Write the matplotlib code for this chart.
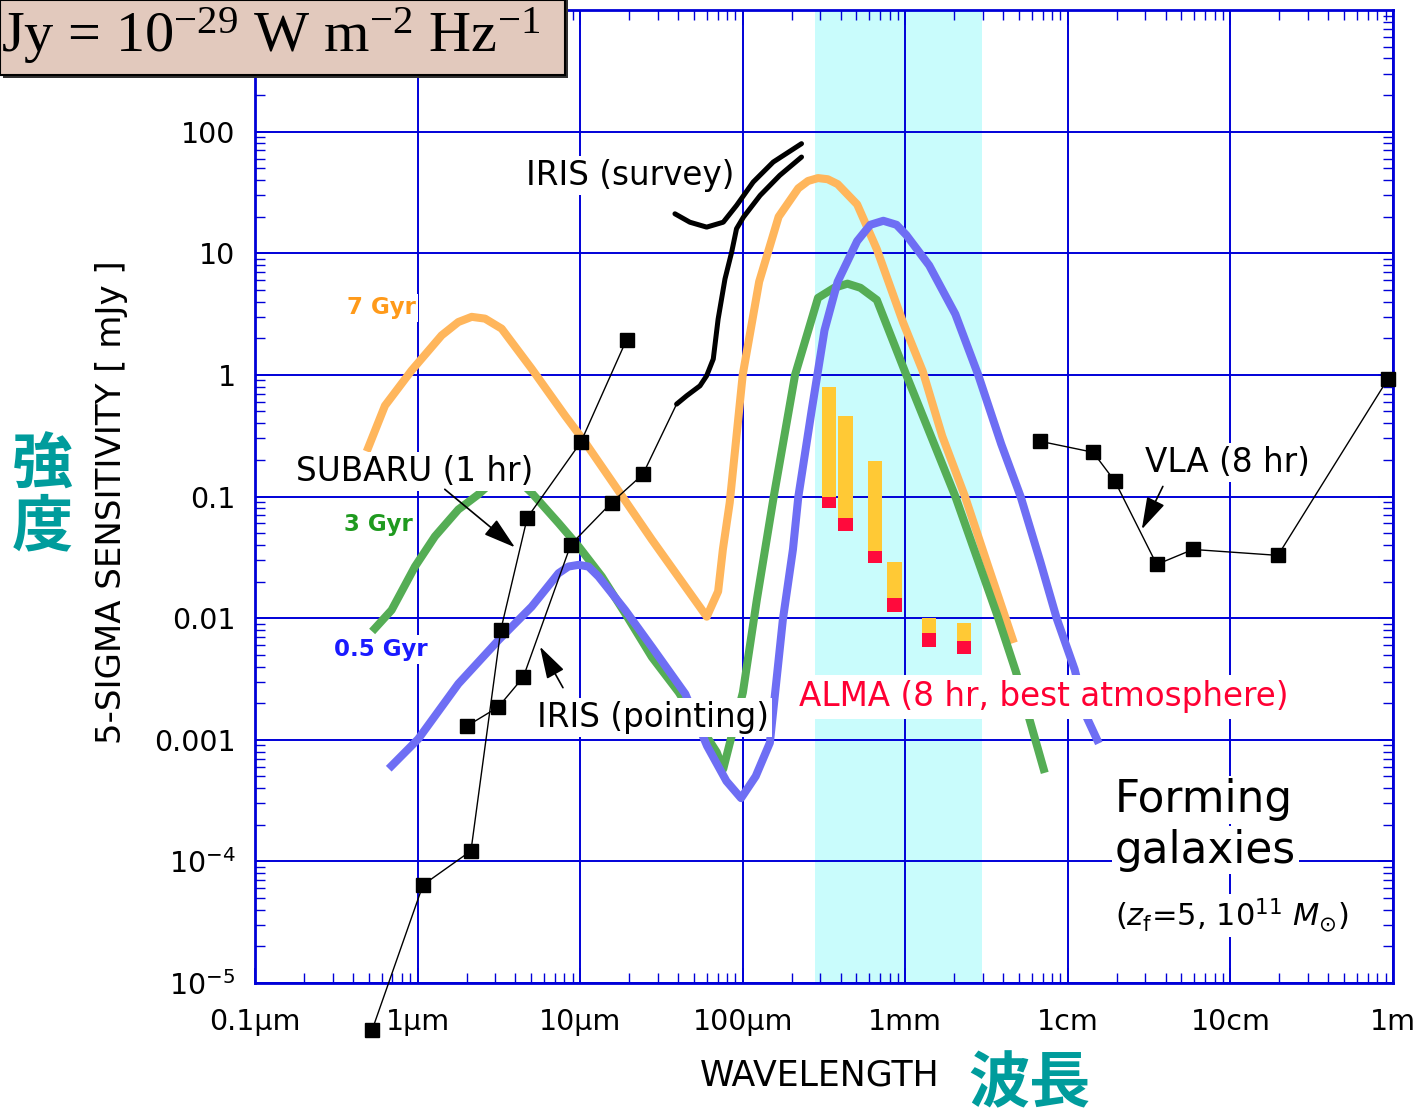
import matplotlib
matplotlib.use('Agg')
import matplotlib.pyplot as plt
from matplotlib.patches import Rectangle
from matplotlib.ticker import NullFormatter

plt.rcParams['font.family'] = ['DejaVu Sans', 'Noto Sans CJK JP']
plt.rcParams['mathtext.default'] = 'regular'

# wavelength in micron, flux / 5-sigma sensitivity in mJy
# model galaxy spectra
gyr7_wl = [0.497, 0.630, 0.918, 1.406, 1.782, 2.153, 2.600, 3.289, 5.035, 8.091, 10.74, 16.44,
           27.61, 44.36, 60.1, 70.6, 75.5, 83.2, 100, 126.2, 166.3, 219.8, 252.4, 290.4,
           333.4, 383.7, 505.8, 668.3, 968.3, 1279, 1687, 2333, 3228, 4571]
gyr7_s = [0.252, 0.558, 1.086, 2.113, 2.72, 3.0, 2.90, 2.399, 1.122, 0.461, 0.278, 0.1216,
          0.0442, 0.01816, 0.01028, 0.0166, 0.0367, 0.0891, 1.0, 5.834, 19.95, 34.2, 39.3, 41.5,
          40.6, 37.0, 25.2, 10.79, 2.704, 1.076, 0.314, 0.0993, 0.0269, 0.00673]

gyr3_wl = [0.546, 0.692, 0.964, 1.279, 1.782, 2.366, 3.162, 3.981, 5.035, 7.362, 9.772, 13.58,
           18.92, 27.61, 40.36, 52.5, 69.2, 75.9, 83.4, 100.2, 122.2, 155.2, 209.9, 290.4,
           365.6, 440.6, 529.7, 668.3, 1014, 2032, 3707, 4786, 7096]
gyr3_s = [0.00822, 0.01164, 0.02655, 0.0470, 0.0782, 0.104, 0.148, 0.145, 0.107, 0.0605, 0.0389,
          0.0220, 0.01094, 0.00479, 0.00246, 0.00141, 7.9e-4, 5.75e-4, 9.44e-4, 0.00244, 0.01422,
          0.1, 1.0, 4.295, 5.20, 5.623, 5.20, 4.13, 1.0, 0.1, 0.01028, 0.00364, 5.75e-4]

gyr05_wl = [0.692, 1.009, 1.782, 3.141, 5.035, 7.362, 8.47, 9.772, 11.25, 12.97, 18.92, 27.61,
            44.36, 60.3, 79.4, 97.7, 120.2, 146.9, 176.6, 203.7, 219.8, 264.8, 318.4, 383.7,
            505.8, 609.5, 732.8, 883.1, 1014, 1403, 2032, 2812, 3890, 5129, 6776, 8551, 11015,
            12970, 15136]
gyr05_s = [6.10e-4, 1.014e-3, 2.884e-3, 6.577e-3, 0.01242, 0.02339, 0.02655, 0.02742, 0.02655,
           0.02198, 0.01164, 0.00579, 0.00238, 8.91e-4, 4.57e-4, 3.31e-4, 5.01e-4, 9.44e-4,
           0.00973, 0.0367, 0.0993, 0.499, 2.323, 5.834, 12.59, 17.14, 18.49, 17.14, 14.13,
           7.943, 3.155, 0.995, 0.270, 0.0993, 0.0290, 0.00989, 0.00378, 0.00156, 0.001]

# instruments
subaru_wl = [0.525, 1.08, 2.13, 3.25, 4.73, 10.1, 19.3]
subaru_s = [4.1e-6, 6.4e-5, 1.22e-4, 8.0e-3, 0.067, 0.28, 1.95]

iris_pt_wl = [2.0, 3.14, 4.47, 8.77, 15.6, 24.3]
iris_pt_s = [1.29e-3, 1.86e-3, 3.27e-3, 0.0403, 0.089, 0.152]

iris_sv_wl = [39.2, 45.2, 54.6, 60.0, 65.9, 70.6, 77.8, 85.5, 91.6, 101, 128, 169, 230]
iris_sv_s = [0.575, 0.673, 0.813, 0.984, 1.35, 2.88, 6.15, 10.2, 15.9, 19.8, 29.9, 43.7, 61.8]
iris_sv2_wl = [38.3, 47.3, 60.0, 75.9, 91.6, 116, 154, 230]
iris_sv2_s = [21.1, 18.0, 16.4, 18.0, 24.7, 38.5, 56.2, 79.6]

alma_wl = [340, 430, 650, 860, 1400, 2300]
alma_best = [0.080, 0.0516, 0.0282, 0.0113, 0.00583, 0.0051]
alma_red_top = [0.100, 0.066, 0.0354, 0.0145, 0.0076, 0.00653]
alma_worst = [0.794, 0.458, 0.195, 0.0287, 0.0101, 0.00904]
alma_band = (280, 2950)

vla_wl = [6700, 14300, 19500, 35200, 58800, 196000, 929000]
vla_s = [0.285, 0.231, 0.133, 0.0276, 0.0367, 0.0328, 0.923]

xticks = [0.1, 1, 10, 100, 1e3, 1e4, 1e5, 1e6]
xlabels = ['0.1µm', '1µm', '10µm', '100µm', '1mm', '1cm', '10cm', '1m']
yticks = [1e-5, 1e-4, 1e-3, 1e-2, 0.1, 1, 10, 100]
ylabels = ['10$^{-5}$', '10$^{-4}$', '0.001', '0.01', '0.1', '1', '10', '100']

grid_blue = '#0000d8'

fig = plt.figure(figsize=(14.16, 11.16), dpi=100)
ax = fig.add_axes([255/1416, 133/1116, 1138/1416, 973/1116])
ax.set_xscale('log')
ax.set_yscale('log')
ax.set_xlim(0.1, 1e6)
ax.set_ylim(1e-5, 1e3)

ax.axvspan(*alma_band, color='#c9fcfc', zorder=0.2, lw=0)
ax.set_axisbelow(True)
ax.grid(which='major', color=grid_blue, lw=1.4)

# galaxy models
ax.plot(gyr7_wl, gyr7_s, color='#ffb65c', lw=5.8, zorder=3, solid_joinstyle='round')
ax.plot(gyr3_wl, gyr3_s, color='#55ad55', lw=5.8, zorder=3, solid_joinstyle='round')
ax.plot(gyr05_wl, gyr05_s, color='#6e6ef4', lw=5.8, zorder=3, solid_joinstyle='round')

# ALMA bars
hw = 10 ** 0.045
for wl, lo, mid, hi in zip(alma_wl, alma_best, alma_red_top, alma_worst):
    ax.bar(wl / hw, hi - mid, width=wl * hw - wl / hw, bottom=mid, align='edge',
           color='#ffc935', zorder=2)
    ax.bar(wl / hw, mid - lo, width=wl * hw - wl / hw, bottom=lo, align='edge',
           color='#ff0a3c', zorder=2)

# instruments
ax.plot(subaru_wl, subaru_s, 'k-s', lw=1, ms=9.5, zorder=6, clip_on=False)
ax.plot(iris_pt_wl, iris_pt_s, 'k-s', lw=1, ms=9.5, zorder=6)
ax.plot([iris_pt_wl[-1], iris_sv_wl[0]], [iris_pt_s[-1], iris_sv_s[0]], 'k-', lw=1, zorder=6)
ax.plot(iris_sv_wl, iris_sv_s, 'k-', lw=3.6, zorder=5, solid_capstyle='round',
        solid_joinstyle='round')
ax.plot(iris_sv2_wl, iris_sv2_s, 'k-', lw=3.6, zorder=5, solid_capstyle='round',
        solid_joinstyle='round')
ax.plot(vla_wl, vla_s, 'k-s', lw=1, ms=9.5, zorder=6, clip_on=False)

# axes styling
ax.set_xticks(xticks, xlabels)
ax.set_yticks(yticks, ylabels)
ax.xaxis.set_minor_formatter(NullFormatter())
ax.yaxis.set_minor_formatter(NullFormatter())
ax.tick_params(which='both', direction='in', top=True, right=True, color=grid_blue,
               labelsize=20.5)
ax.tick_params(axis='x', pad=18)
ax.tick_params(axis='y', pad=14)
ax.tick_params(which='major', length=11, width=1.2)
ax.tick_params(which='minor', length=7, width=1)
for sp in ax.spines.values():
    sp.set_color(grid_blue)
    sp.set_linewidth(2)

# labels
box = dict(facecolor='white', edgecolor='none', pad=2)
ax.text(20.2, 43.5, 'IRIS (survey)', fontsize=23.5, ha='center', va='center', bbox=box, zorder=7)
ax.text(0.596, 3.55, '7 Gyr', fontsize=16.5, color='#ff9a1a', fontweight='bold',
        ha='center', va='center', bbox=box, zorder=7)
ax.text(0.964, 0.161, 'SUBARU (1 hr)', fontsize=23.5, ha='center', va='center', bbox=box, zorder=7)
ax.text(0.570, 0.059, '3 Gyr', fontsize=16.5, color='#1f9a1f', fontweight='bold',
        ha='center', va='center', bbox=box, zorder=7)
ax.text(0.596, 0.0055, '0.5 Gyr', fontsize=16.5, color='#1a1aff', fontweight='bold',
        ha='center', va='center', bbox=box, zorder=7)
ax.text(28.1, 0.00152, 'IRIS (pointing)', fontsize=23.5, ha='center', va='center', bbox=box, zorder=7)
ax.text(7110, 0.00226, 'ALMA (8 hr, best atmosphere)', fontsize=23.5, color='#ff0033',
        ha='center', va='center', bbox=dict(facecolor='white', edgecolor='none', pad=4), zorder=7)
ax.text(96400, 0.191, 'VLA (8 hr)', fontsize=23.5, ha='center', va='center', bbox=box, zorder=7)
ax.text(19450, 3.2e-4, 'Forming', fontsize=31.5, ha='left', va='center', bbox=box, zorder=7)
ax.text(19450, 1.24e-4, 'galaxies', fontsize=31.5, ha='left', va='center', bbox=box, zorder=7)
ax.text(19450, 3.6e-5, r'($\mathit{z}_{f}$=5, 10$^{11}$ $\mathit{M}_{\odot}$)', fontsize=22,
        ha='left', va='center', bbox=box, zorder=7)

arrow = dict(arrowstyle='-|>,head_length=1.0,head_width=0.3', color='k', lw=1.2,
             shrinkA=0, shrinkB=0, mutation_scale=20)
ax.annotate('', xy=(3.97, 0.0382), xytext=(1.47, 0.1146), arrowprops=arrow, zorder=8)
ax.annotate('', xy=(5.66, 0.00583), xytext=(7.84, 0.00268), arrowprops=arrow, zorder=8)
ax.annotate('', xy=(28500, 0.0537), xytext=(38400, 0.121), arrowprops=arrow, zorder=8)

fig.text(112/1416, (1116 - 502)/1116, '5-SIGMA SENSITIVITY [ mJy ]', rotation=90,
         fontsize=24.5, ha='center', va='center')
fig.text(820/1416, (1116 - 1075)/1116, 'WAVELENGTH', fontsize=25, ha='center', va='center')

teal = '#009c9c'
fig.text(42/1416, (1116 - 466)/1116, '強', family=['Noto Sans CJK JP'], fontsize=44,
         fontweight='bold', color=teal, ha='center', va='center')
fig.text(42/1416, (1116 - 528)/1116, '度', family=['Noto Sans CJK JP'], fontsize=44,
         fontweight='bold', color=teal, ha='center', va='center')
fig.text(1029/1416, (1116 - 1085)/1116, '波長', family=['Noto Sans CJK JP'], fontsize=44,
         fontweight='bold', color=teal, ha='center', va='center')

# unit box, top left
fig.add_artist(Rectangle((3/1416, 1 - 78/1116), 565/1416, 78/1116, transform=fig.transFigure,
                         facecolor='#333333', edgecolor='none', zorder=9))
fig.add_artist(Rectangle((0, 1 - 75/1116), 565/1416, 75/1116, transform=fig.transFigure,
                         facecolor='#e2c9bd', edgecolor='black', lw=1.5, zorder=10))
fig.text(1/1416, 1 - 52/1116, r'Jy = 10$^{-29}$ W m$^{-2}$ Hz$^{-1}$',
         family=['Liberation Serif'], fontsize=42, ha='left', va='baseline', zorder=11)

fig.savefig('out.png', dpi=100)
